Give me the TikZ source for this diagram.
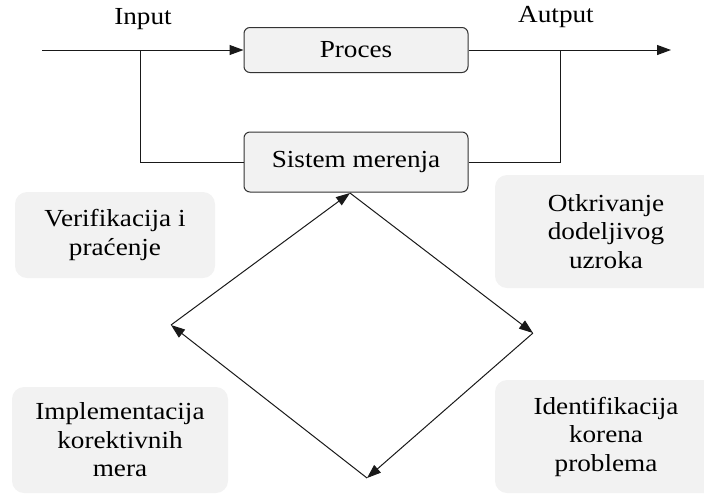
\documentclass[tikz,border=0pt]{standalone}
\usepackage{fontspec}
\setmainfont{Liberation Serif}[FakeStretch=1.11]
\usetikzlibrary{arrows.meta}
\definecolor{boxgrey}{HTML}{F2F2F2}
\tikzset{
  procbox/.style={draw=black!80, line width=1pt, fill=boxgrey, rounded corners=6pt,
    minimum width=224pt, minimum height=45pt, inner sep=0pt, font=\fontsize{24.5}{28}\selectfont},
  greybox/.style={fill=boxgrey, rounded corners=12pt, inner sep=0pt, align=center,
    font=\fontsize{24.5}{28.5}\selectfont},
  lbl/.style={inner sep=0pt, font=\fontsize{24.5}{28}\selectfont},
  conn/.style={line width=1pt, draw=black!90},
  tip/.style={-{Triangle[length=14pt,width=10pt]}}
}
\begin{document}
\begin{tikzpicture}[x=1pt,y=-1pt]
\useasboundingbox (0,0) rectangle (704,499);
% grey boxes
\node[greybox, minimum width=200pt, minimum height=86pt] (verif) at (115,235) {Verifikacija i\\pra\'cenje};
\node[greybox, minimum width=216pt, minimum height=106pt] (impl) at (120,440) {Implementacija\\korektivnih\\mera};
\node[greybox, minimum width=222pt, minimum height=113pt] (otkr) at (606,231.5) {Otkrivanje\\dodeljivog\\uzroka};
\node[greybox, minimum width=222pt, minimum height=113pt] (ident) at (606,436.5) {Identifikacija\\korena\\problema};
% process boxes
\node[procbox] (proces) at (356,50) {Proces};
\node[procbox, minimum height=60pt] (sistem) at (356,162) {Sistem merenja};
% labels
\node[lbl] (input) at (143,19) {Input};
\node[lbl] (autput) at (556,17) {Autput};
% main line
\coordinate (in) at (42,50);
\coordinate (out) at (671,50);
\coordinate (bi) at (140,50);
\coordinate (bo) at (560,50);
\draw[conn, tip] (in) -- (proces.west);
\draw[conn, tip] (proces.east) -- (out);
\draw[conn] (bi) |- (sistem.west);
\draw[conn] (sistem.east) -| (bo);
% diamond
\coordinate (top) at (350,193);
\coordinate (right) at (533,333);
\coordinate (bottom) at (367,478);
\coordinate (left) at (171,325);
\draw[conn, tip] (top) -- (right);
\draw[conn, tip] (right) -- (bottom);
\draw[conn, tip] (bottom) -- (left);
\draw[conn, tip] (left) -- (top);
\end{tikzpicture}
\end{document}
